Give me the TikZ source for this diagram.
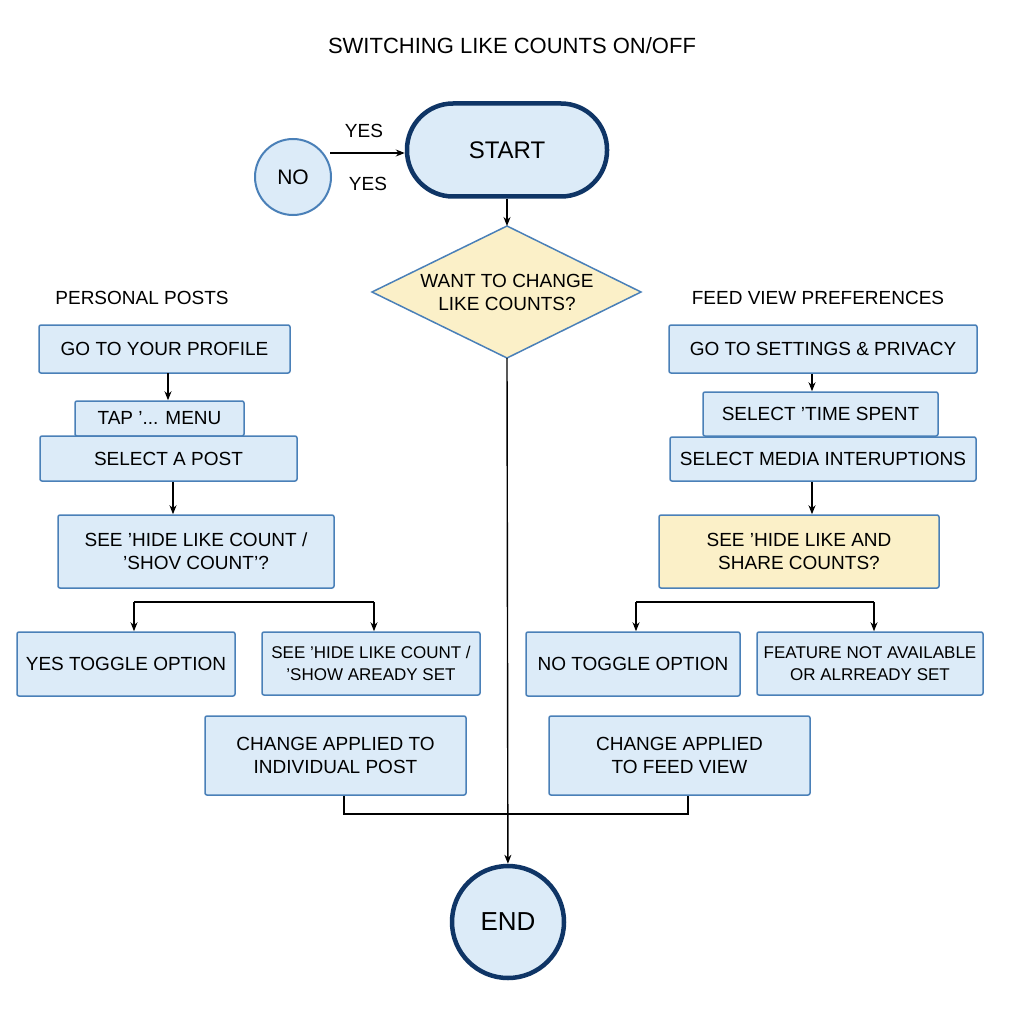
\documentclass[tikz,border=0pt]{standalone}
\usepackage{fontspec}
\setmainfont{Liberation Sans}
\usetikzlibrary{arrows.meta}
\definecolor{bfill}{HTML}{DCEBF8}
\definecolor{bline}{HTML}{4A80B8}
\definecolor{navy}{HTML}{0F3566}
\definecolor{yfill}{HTML}{FBF0C8}
\begin{document}
\begin{tikzpicture}[x=1pt,y=-1pt,
 box/.style={draw=bline,fill=bfill,line width=1.5pt,rounded corners=2pt,font=\fontsize{19}{23}\selectfont,align=center},
 lbl/.style={font=\fontsize{19}{23}\selectfont},
 arr/.style={-{Stealth[length=9pt,width=7pt]},line width=1.4pt},
 ln/.style={line width=1.4pt}]
\useasboundingbox[fill=white] (0,0) rectangle (1024,1024);
\node[font=\fontsize{22}{26}\selectfont] (title) at (512,46) {SWITCHING LIKE COUNTS ON/OFF};
% start / end
\node[draw=navy,fill=bfill,line width=4.5pt,rounded corners=46pt,minimum width=200pt,minimum height=93pt,font=\fontsize{24}{28}\selectfont] (start) at (507,150) {START};
\node[draw=bline,fill=bfill,line width=2pt,circle,minimum size=76pt,font=\fontsize{21}{25}\selectfont] (no) at (293,177) {NO};
\coordinate (noa) at (330,153);
\draw[arr] (noa) -- (start.west |- noa);
\node[lbl] (y1) at (364,131) {YES};
\node[lbl] (y2) at (368,184) {YES};
\draw[draw=bline,fill=yfill,line width=1.5pt] (507,226) coordinate (dt) -- (641,292) -- (507,358) coordinate (db) -- (372,292) -- cycle;
\node[font=\fontsize{19}{23}\selectfont,align=center] (dec) at (507,292) {WANT TO CHANGE\\LIKE COUNTS?};
\draw[arr] (start) -- (dt);
\node[draw=navy,fill=bfill,line width=4.5pt,circle,minimum size=112pt,font=\fontsize{26}{30}\selectfont] (end) at (508,922) {END};
\draw[arr] (db) -- (end);
% left
\node[lbl] (pp) at (142,298) {PERSONAL POSTS};
\node[box,minimum width=251pt,minimum height=48pt] (l1) at (164.5,349) {GO TO YOUR PROFILE};
\node[box,minimum width=169pt,minimum height=35pt] (l2) at (159.5,418.5) {TAP '... MENU};
\node[box,minimum width=257pt,minimum height=45pt] (l3) at (168.5,458.5) {SELECT A POST};
\node[box,minimum width=276pt,minimum height=73pt] (l4) at (196,551.5) {SEE 'HIDE LIKE COUNT /\\'SHOV COUNT'?};
\node[box,minimum width=218pt,minimum height=64pt] (l5) at (126,664) {YES TOGGLE OPTION};
\node[box,minimum width=218pt,minimum height=63pt,font=\fontsize{17}{22}\selectfont] (l6) at (371,663.5) {SEE 'HIDE LIKE COUNT /\\'SHOW AREADY SET};
\node[box,minimum width=261pt,minimum height=79pt] (l7) at (335.5,755.5) {CHANGE APPLIED TO\\INDIVIDUAL POST};
\draw[arr] (168,373) -- (l2.north -| 168,0);
\draw[arr] (l3.south -| 173,0) -- (l4.north -| 173,0);
\draw[ln] (134,602) -- (374,602);
\draw[arr] (134,602) -- (l5.north -| 134,0);
\draw[arr] (374,602) -- (l6.north -| 374,0);
% right
\node[lbl] (fv) at (818,298) {FEED VIEW PREFERENCES};
\node[box,minimum width=308pt,minimum height=48pt] (r1) at (823,349) {GO TO SETTINGS \& PRIVACY};
\node[box,minimum width=235pt,minimum height=44pt] (r2) at (820.5,414) {SELECT 'TIME SPENT};
\node[box,minimum width=306pt,minimum height=44pt] (r3) at (823,459) {SELECT MEDIA INTERUPTIONS};
\node[box,fill=yfill,minimum width=280pt,minimum height=73pt] (r4) at (799,551.5) {SEE 'HIDE LIKE AND\\SHARE COUNTS?};
\node[box,minimum width=214pt,minimum height=64pt] (r5) at (633,664) {NO TOGGLE OPTION};
\node[box,minimum width=226pt,minimum height=63pt,font=\fontsize{17}{22}\selectfont] (r6) at (870,663.5) {FEATURE NOT AVAILABLE\\OR ALRREADY SET};
\node[box,minimum width=261pt,minimum height=79pt] (r7) at (679.5,755.5) {CHANGE APPLIED\\TO FEED VIEW};
\draw[arr] (r1.south -| 812,0) -- (r2.north -| 812,0);
\draw[arr] (r3.south -| 812,0) -- (r4.north -| 812,0);
\draw[ln] (636,602) -- (874,602);
\draw[arr] (636,602) -- (r5.north -| 636,0);
\draw[arr] (874,602) -- (r6.north -| 874,0);
% merge
\draw[ln] (l7.south -| 344,0) -- (344,814) -- (688,814) -- (r7.south -| 688,0);
\end{tikzpicture}
\end{document}
